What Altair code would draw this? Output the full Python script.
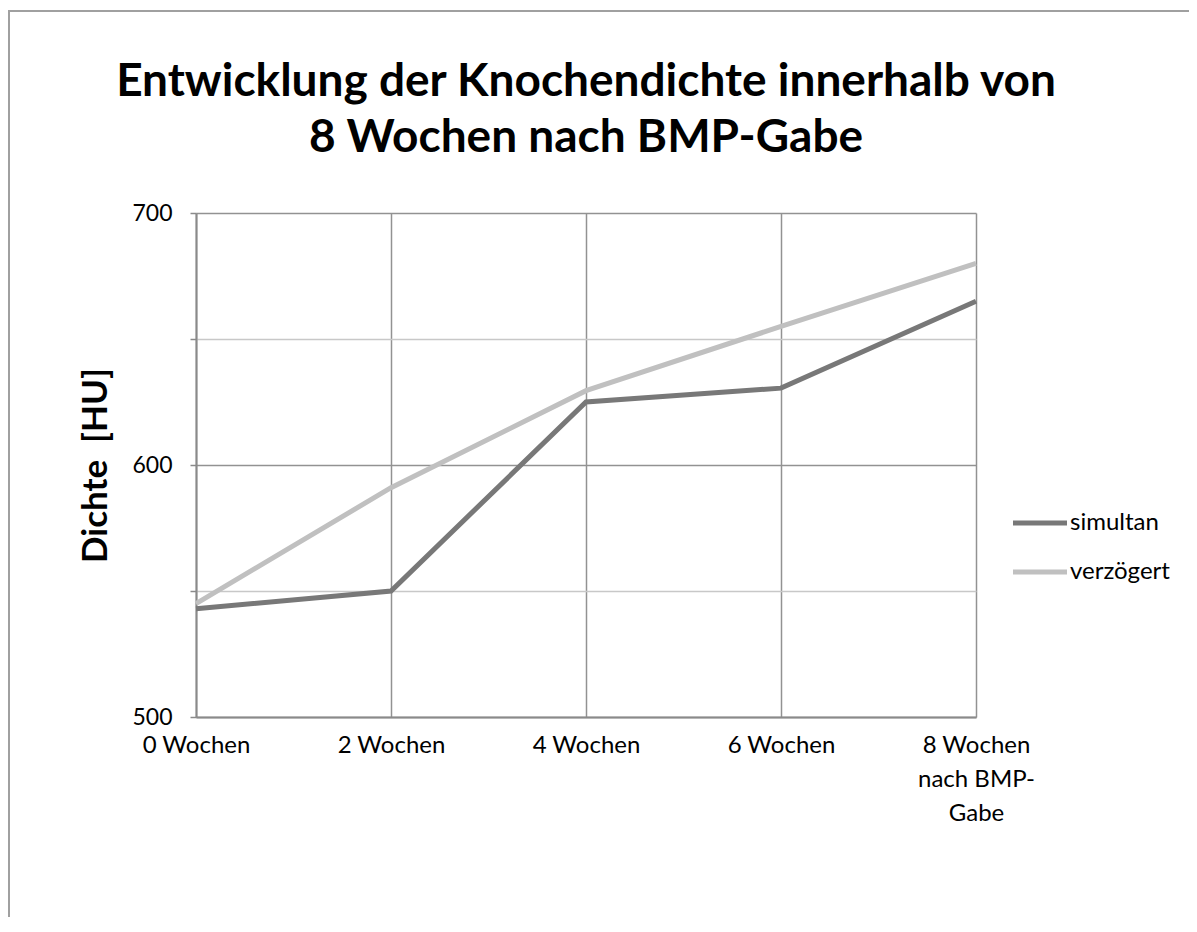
import altair as alt
import pandas as pd

categories = ["0 Wochen", "2 Wochen", "4 Wochen", "6 Wochen", "8 Wochen nach BMP-Gabe"]
series_names = ["simultan", "verzögert"]
simultan = [543, 550, 625, 630.5, 665]
verzoegert = [545, 591, 629.5, 655, 680]
y_ticks = [500, 550, 600, 650, 700]
colors = ["#787878", "#c0c0c0"]

rows = []
for name, vals in zip(series_names, [simultan, verzoegert]):
    for c, v in zip(categories, vals):
        rows.append({"Zeit": c, "Dichte": v, "Serie": name})
df = pd.DataFrame(rows)

FONT = "Lato"

x_enc = alt.X(
    "Zeit:N",
    sort=categories,
    scale=alt.Scale(type="point", padding=0),
    axis=alt.Axis(
        title=None,
        labelAngle=0,
        ticks=False,
        grid=True,
        gridColor="#929292",
        gridWidth=1.5,
        domainColor="#8a8a8a",
        domainWidth=2,
        labelFont=FONT,
        labelFontSize=24,
        labelColor="black",
        labelPadding=16,
        labelLineHeight=34,
        labelExpr="datum.label == '8 Wochen nach BMP-Gabe' ? ['8 Wochen', 'nach BMP-', 'Gabe'] : datum.label",
    ),
)

y_enc = alt.Y(
    "Dichte:Q",
    scale=alt.Scale(domain=[500, 700], nice=False, zero=False),
    axis=alt.Axis(
        values=y_ticks,
        labelExpr="datum.value % 100 === 0 ? datum.label : ''",
        title="Dichte\u00a0 [HU]",
        titleFont=FONT,
        titleFontSize=35,
        titleFontWeight="bold",
        titleColor="black",
        titlePadding=18,
        tickSize=6,
        tickColor="#8a8a8a",
        tickWidth=1.5,
        labelFont=FONT,
        labelFontSize=23,
        labelColor="black",
        labelPadding=18,
        domainColor="#8a8a8a",
        domainWidth=2,
        gridWidth=1.5,
        gridColor={"condition": {"test": "datum.value % 100 === 0", "value": "#929292"}, "value": "#c8c8c8"},
    ),
)

color_enc = alt.Color(
    "Serie:N",
    scale=alt.Scale(domain=series_names, range=colors),
    legend=alt.Legend(
        title=None,
        orient="none",
        legendX=828,
        legendY=294,
        padding=0,
        symbolType="M -2 0 L 2 0",
        symbolSize=729,
        symbolStrokeWidth=5,
        labelFont=FONT,
        labelFontSize=24,
        labelColor="black",
        labelOffset=14,
        rowPadding=21,
    ),
)

lines = alt.Chart(df).mark_line(strokeWidth=5).encode(
    x=x_enc,
    y=y_enc,
    color=color_enc,
    order=alt.Order("Serie:N"),
    detail="Serie:N",
)

frame = alt.Chart(pd.DataFrame({"f": [0]})).mark_rect(
    filled=False, stroke="#a0a0a0", strokeWidth=2
).encode(
    x=alt.value(-187), x2=alt.value(1100), y=alt.value(-202), y2=alt.value(900)
)

chart = alt.layer(frame, lines).properties(
    width=780,
    height=504,
    title=alt.TitleParams(
        text=["Entwicklung der Knochendichte innerhalb von", "8 Wochen nach BMP-Gabe"],
        font=FONT,
        fontSize=46,
        fontWeight="bold",
        color="black",
        lineHeight=56,
        offset=0,
        dy=152,
        anchor="middle",
        frame="group",
    ),
    autosize=alt.AutoSizeParams(type="none"),
    padding={"left": 188, "top": 205, "right": 213, "bottom": 200},
).configure_view(strokeWidth=0)

chart.save("out.html", embed_options={"renderer": "svg", "actions": False})
